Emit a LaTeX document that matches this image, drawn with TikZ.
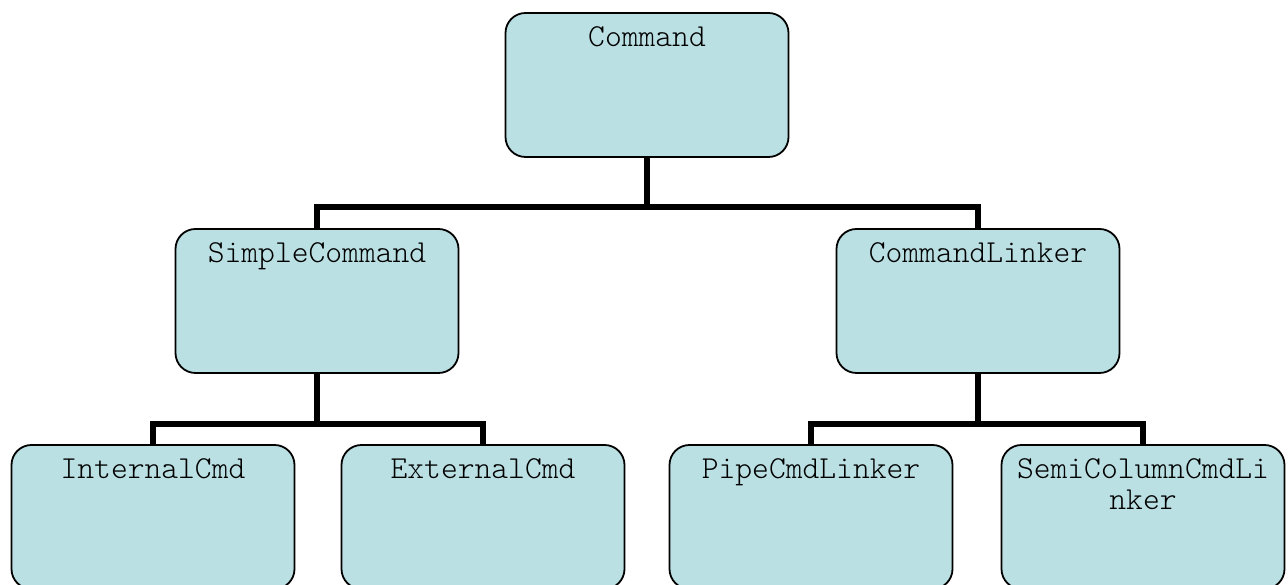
\documentclass[tikz,border=0pt]{standalone}
\definecolor{boxfill}{RGB}{186,224,227}
\tikzset{
	cmdbox/.style = {draw, line width = 1.8pt, fill = boxfill, rounded corners = 20pt,
		minimum width = 283pt, minimum height = 144pt, inner sep = 0pt},
	cmdtext/.style = {anchor = base, inner sep = 0pt, align = center,
		font = \ttfamily\fontseries{l}\fontsize{32}{31}\selectfont},
	wire/.style = {line width = 5.5pt}
}
\begin{document}
\begin{tikzpicture}[x=1pt, y=1pt]
		
		\useasboundingbox (0,0) rectangle (1288,585);
		\clip (0,0) rectangle (1288,585);
		
		% boxes
		\node[cmdbox] (cmd) at (647,500) {};
		\node[cmdbox] (simple) at (317,284) {};
		\node[cmdbox] (linker) at (978,284) {};
		\node[cmdbox] (internal) at (153,68) {};
		\node[cmdbox] (external) at (483,68) {};
		\node[cmdbox] (pipe) at (811,68) {};
		\node[cmdbox] (semi) at (1143,68) {};
		
		% texts
		\node[cmdtext] (cmdT) at ([yshift=-34pt]cmd.north) {Command};
		\node[cmdtext] (simpleT) at ([yshift=-34pt]simple.north) {SimpleCommand};
		\node[cmdtext] (linkerT) at ([yshift=-34pt]linker.north) {CommandLinker};
		\node[cmdtext] (internalT) at ([yshift=-34pt]internal.north) {InternalCmd};
		\node[cmdtext] (externalT) at ([yshift=-34pt]external.north) {ExternalCmd};
		\node[cmdtext] (pipeT) at ([yshift=-34pt]pipe.north) {PipeCmdLinker};
		\node[cmdtext] (semiT) at ([yshift=-65pt]semi.north) {SemiColumnCmdLi\\nker};
		
		% connectors
		\draw[wire] (cmd.south) -- ++(0,-49) coordinate (j1);
		\draw[wire] (simple.north) |- (j1) -| (linker.north);
		
		\draw[wire] (simple.south) -- ++(0,-50) coordinate (j2);
		\draw[wire] (internal.north) |- (j2) -| (external.north);
		
		\draw[wire] (linker.south) -- ++(0,-50) coordinate (j3);
		\draw[wire] (pipe.north) |- (j3) -| (semi.north);
		
	\end{tikzpicture}
\end{document}
